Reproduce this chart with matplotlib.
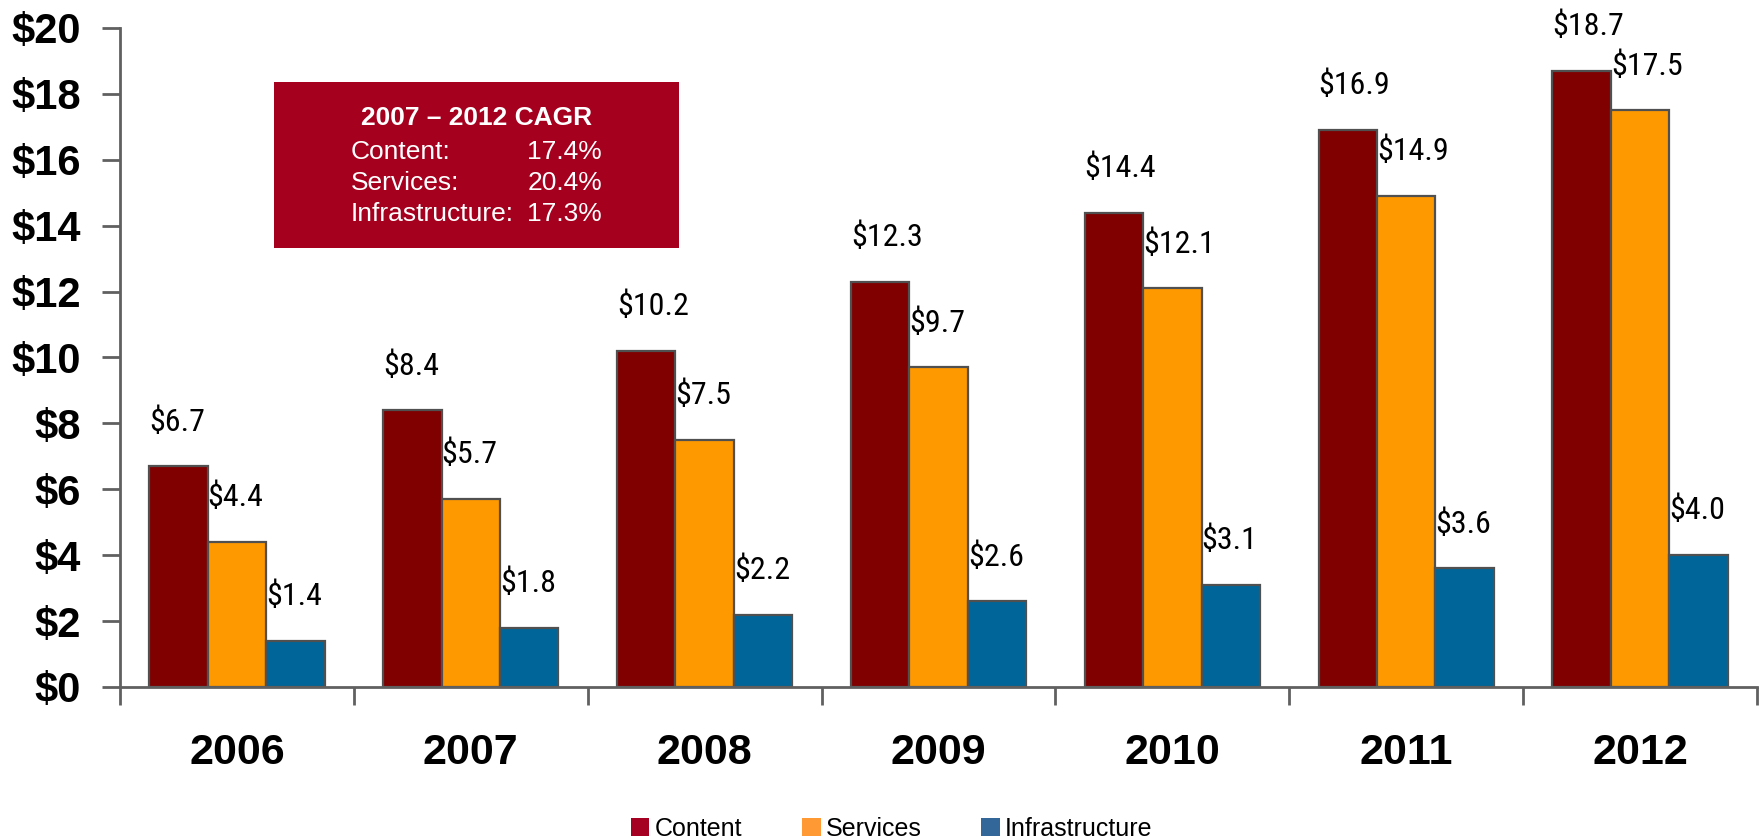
import matplotlib
matplotlib.use('Agg')
import matplotlib.pyplot as plt
from matplotlib import font_manager
from matplotlib.patches import Rectangle, Patch

# data
years = ['2006', '2007', '2008', '2009', '2010', '2011', '2012']
content = [6.7, 8.4, 10.2, 12.3, 14.4, 16.9, 18.7]
services = [4.4, 5.7, 7.5, 9.7, 12.1, 14.9, 17.5]
infrastructure = [1.4, 1.8, 2.2, 2.6, 3.1, 3.6, 4.0]
series_names = ['Content', 'Services', 'Infrastructure']
yticks = [0, 2, 4, 6, 8, 10, 12, 14, 16, 18, 20]
cagr_names = ['Content:', 'Services:', 'Infrastructure:']
cagr_values = ['17.4%', '20.4%', '17.3%']

bar_colors = ['#800000', '#FF9900', '#006699']
legend_colors = ['#A50021', '#FF9933', '#336699']
axis_gray = '#606060'

plt.rcParams['font.family'] = ['Liberation Sans', 'DejaVu Sans']

# narrow font for the value labels, whatever is there
fonts = font_manager.fontManager.ttflist
names = {f.name for f in fonts}
label_font = dict(family=['Liberation Sans', 'DejaVu Sans'], fontsize=19.5)
for cand in ['Liberation Sans Narrow', 'Arial Narrow', 'Roboto Condensed',
             'Open Sans Condensed']:
    if cand in names:
        label_font = dict(family=[cand, 'DejaVu Sans'], fontsize=23)
        break
else:
    if any(f.name == 'DejaVu Sans' and f.stretch == 'condensed' for f in fonts):
        label_font = dict(family=['DejaVu Sans'], fontstretch='condensed',
                          fontsize=20)

fig = plt.figure(figsize=(17.62, 8.38), dpi=100)
ax = fig.add_axes([0.0681, 0.1802, 0.9291, 0.7864])

w = 0.25
for j, vals in enumerate([content, services, infrastructure]):
    for i, v in enumerate(vals):
        x = i + (j - 1) * w
        ax.bar(x, v, width=w, color=bar_colors[j], edgecolor='#505050',
               linewidth=1.6, zorder=2)
        ax.annotate('$%.1f' % v, xy=(x - w / 2, v), xytext=(0, 32),
                    textcoords='offset points', ha='left', va='center',
                    color='black', **label_font)

ax.set_xlim(-0.5, len(years) - 0.5)
ax.set_ylim(0, 20)

# ticks at category boundaries, labels at centres
ax.set_xticks([i - 0.5 for i in range(len(years) + 1)])
ax.set_xticklabels([])
ax.set_xticks(range(len(years)), minor=True)
ax.set_xticklabels(years, minor=True, fontsize=31, fontweight='bold')
ax.tick_params(axis='x', which='major', direction='out', length=13,
               width=2, color=axis_gray)
ax.tick_params(axis='x', which='minor', length=0, pad=33)

ax.set_yticks(yticks)
ax.set_yticklabels(['$%d' % t for t in yticks], fontsize=30, fontweight='bold')
ax.tick_params(axis='y', direction='out', length=13, width=2,
               color=axis_gray, pad=15)

for s in ['top', 'right']:
    ax.spines[s].set_visible(False)
for s in ['left', 'bottom']:
    ax.spines[s].set_color(axis_gray)
    ax.spines[s].set_linewidth(2)

# CAGR box
fig.patches.append(Rectangle((0.1555, 0.704), 0.2299, 0.198,
                             transform=fig.transFigure, facecolor='#A6001F',
                             edgecolor='none', zorder=5))
fig.text(0.2707, 1 - 118 / 838, '2007 \u2013 2012 CAGR', ha='center',
         va='center', fontsize=19, fontweight='bold', color='white', zorder=6)
for k in range(3):
    yy = 1 - (152 + 31 * k) / 838
    fig.text(351 / 1762, yy, cagr_names[k], ha='left', va='center',
             fontsize=19, color='white', zorder=6)
    fig.text(602 / 1762, yy, cagr_values[k], ha='right', va='center',
             fontsize=19, color='white', zorder=6)

handles = [Patch(facecolor=c, edgecolor='none') for c in legend_colors]
fig.legend(handles, series_names, loc='lower center',
           bbox_to_anchor=(0.506, -0.03), ncol=3, frameon=False,
           handlelength=0.75, handleheight=0.75,
           handletextpad=0.2, columnspacing=2.4,
           prop={'size': 18})

fig.savefig('out.png', dpi=100)
